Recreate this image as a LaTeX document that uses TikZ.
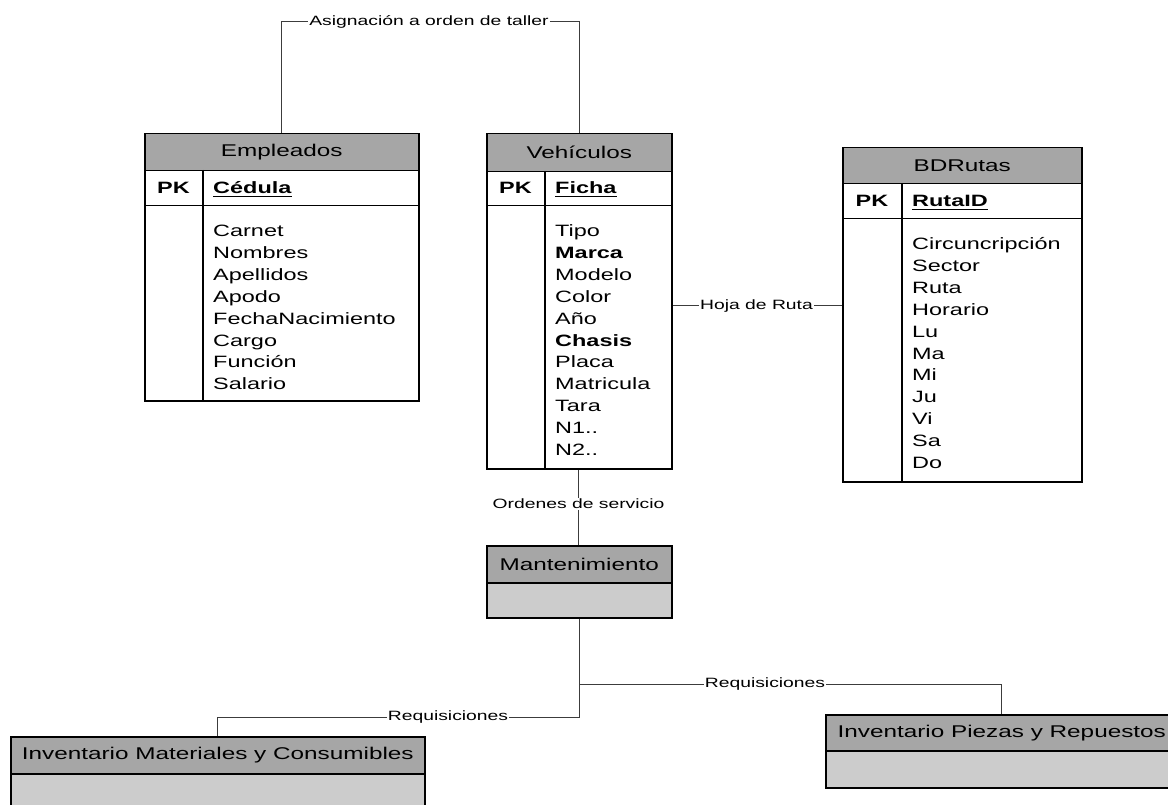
\documentclass[tikz,border=0pt]{standalone}
\usepackage{fontspec}
\newfontfamily\dfont{Liberation Sans}[FakeStretch=1.43]
\newcommand\hdrfont{\dfont\fontsize{17}{20}\selectfont}
\newcommand\fldfont{\dfont\fontsize{16.4}{21.8}\selectfont}
\newcommand\keyfont{\dfont\bfseries\fontsize{16.4}{19}\selectfont}
\newcommand\lblfont{\dfont\fontsize{13.5}{16}\selectfont}
\definecolor{hdrgray}{RGB}{166,166,166}
\definecolor{bodygray}{RGB}{204,204,204}
\definecolor{connline}{RGB}{60,60,60}

\tikzset{
  box/.style={draw=black, line width=1.5pt, anchor=north west, inner sep=0pt},
  hdr/.style={box, fill=hdrgray, font=\hdrfont},
  rowbox/.style={box, fill=white},
  graybody/.style={box, fill=bodygray},
  divider/.style={draw=black, line width=1.5pt},
  pklbl/.style={anchor=base, inner sep=0pt, font=\keyfont},
  keylbl/.style={anchor=base west, inner sep=0pt, font=\keyfont},
  keyline/.style={draw=black, line width=1.4pt},
  fld/.style={anchor=base west, inner sep=0pt, font=\fldfont},
  conn/.style={draw=connline, line width=1pt},
  lbl/.style={inner sep=1pt, font=\lblfont}
}

\begin{document}
\begin{tikzpicture}[x=1pt, y=-1pt]
\useasboundingbox (0,0) rectangle (1168,805);
\clip (0,0) rectangle (1168,805);
\fill[white] (0,0) rectangle (1168,805);

% ---- Empleados ----
\node[hdr, minimum width=274pt, minimum height=37pt] (emp) at (144,133) {Empleados};
\node[rowbox, minimum width=274pt, minimum height=35pt] (emp-pk) at (144,170) {};
\node[rowbox, minimum width=274pt, minimum height=195pt] (emp-body) at (144,205) {};
\draw[divider] (203,170) -- (203,400);
\node[pklbl] (emp-pkl) at (173.5,193.5) {PK};
\node[keylbl] (emp-key) at (213,193.5) {Cédula};
\draw[keyline] ([yshift=-3pt]emp-key.base west) -- ([yshift=-3pt]emp-key.base east);
\foreach \t [count=\i] in {Carnet,Nombres,Apellidos,Apodo,FechaNacimiento,Cargo,Función,Salario}
  \node[fld] (emp-f\i) at (213,{237+(\i-1)*21.8}) {\t};

% ---- Vehículos ----
\node[hdr, minimum width=185pt, minimum height=38pt] (veh) at (486,133) {Vehículos};
\node[rowbox, minimum width=185pt, minimum height=34pt] (veh-pk) at (486,171) {};
\node[rowbox, minimum width=185pt, minimum height=263pt] (veh-body) at (486,205) {};
\draw[divider] (545,171) -- (545,468);
\node[pklbl] (veh-pkl) at (515.5,193.5) {PK};
\node[keylbl] (veh-key) at (555,193.5) {Ficha};
\draw[keyline] ([yshift=-3pt]veh-key.base west) -- ([yshift=-3pt]veh-key.base east);
\foreach \t [count=\i] in {Tipo,{\bfseries Marca},Modelo,Color,Año,{\bfseries Chasis},Placa,Matricula,Tara,N1..,N2..}
  \node[fld] (veh-f\i) at (555,{237+(\i-1)*21.8}) {\t};

% ---- BDRutas ----
\node[hdr, minimum width=239pt, minimum height=36pt] (rut) at (842,147) {BDRutas};
\node[rowbox, minimum width=239pt, minimum height=35pt] (rut-pk) at (842,183) {};
\node[rowbox, minimum width=239pt, minimum height=263pt] (rut-body) at (842,218) {};
\draw[divider] (902,183) -- (902,481);
\node[pklbl] (rut-pkl) at (872,206.5) {PK};
\node[keylbl] (rut-key) at (912,206.5) {RutaID};
\draw[keyline] ([yshift=-3pt]rut-key.base west) -- ([yshift=-3pt]rut-key.base east);
\foreach \t [count=\i] in {Circuncripción,Sector,Ruta,Horario,Lu,Ma,Mi,Ju,Vi,Sa,Do}
  \node[fld] (rut-f\i) at (912,{250+(\i-1)*21.8}) {\t};

% ---- Mantenimiento ----
\node[hdr, minimum width=185pt, minimum height=37pt] (man) at (486,545) {Mantenimiento};
\node[graybody, minimum width=185pt, minimum height=35pt] (man-body) at (486,582) {};

% ---- Inventario Materiales y Consumibles ----
\node[hdr, minimum width=414pt, minimum height=37pt] (mat) at (10,736) {Inventario Materiales y Consumibles};
\node[graybody, minimum width=414pt, minimum height=40pt] (mat-body) at (10,773) {};

% ---- Inventario Piezas y Repuestos ----
\node[hdr, minimum width=352pt, minimum height=36pt] (pie) at (825,714) {Inventario Piezas y Repuestos};
\node[graybody, minimum width=352pt, minimum height=37pt] (pie-body) at (825,750) {};

% ---- relationship labels ----
\node[lbl] (asig) at (429,22) {Asignación a orden de taller};
\node[lbl] (hoja) at (756.5,306) {Hoja de Ruta};
\node[lbl] (ord) at (578.5,504) {Ordenes de servicio};
\node[lbl] (req2) at (765,684) {Requisiciones};
\node[lbl] (req1) at (448,717) {Requisiciones};

% ---- connectors ----
\draw[conn] (emp.north) |- (asig.west);
\draw[conn] (asig.east) -| (veh.north);
\draw[conn] (hoja.west) -- (hoja.west -| veh-body.east);
\draw[conn] (hoja.east) -- (hoja.east -| rut-body.west);
\draw[conn] (ord.north) -- (ord.north |- veh-body.south);
\draw[conn] (ord.south) -- (ord.south |- man.north);
\draw[conn] (man-body.south) |- (req2.west);
\draw[conn] (req2.east) -| (pie.north);
\draw[conn] (man-body.south) |- (req1.east);
\draw[conn] (req1.west) -| (mat.north);
\end{tikzpicture}
\end{document}
